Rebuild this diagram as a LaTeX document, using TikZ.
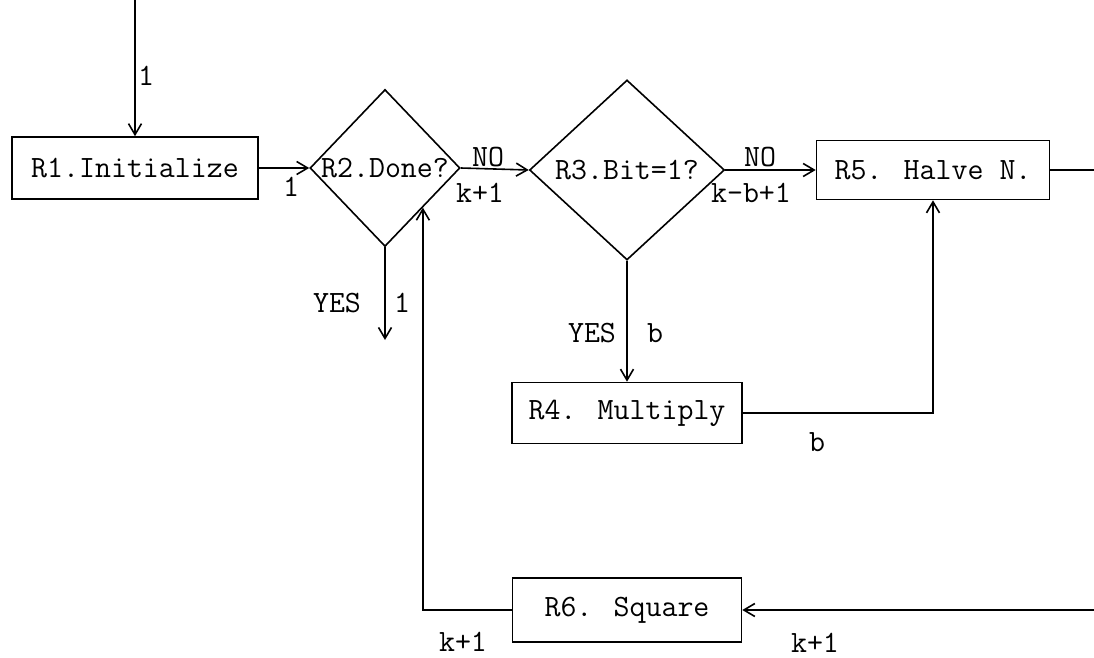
\documentclass[tikz,border=0pt]{standalone}
\usetikzlibrary{shapes.geometric,arrows.meta}
\newcommand{\flowfont}{\fontsize{31}{37}\selectfont\ttfamily}
\tikzset{
  box/.style={draw, line width=1.6pt, inner sep=0pt, font=\flowfont},
  decision/.style={draw, diamond, line width=1.6pt, inner sep=0pt, font=\flowfont},
  flow/.style={line width=1.6pt},
  arrow/.style={flow, -{Straight Barb[length=11pt,width=13pt,line width=1.6pt]}},
  tag/.style={font=\flowfont, inner sep=0pt},
}
\begin{document}
\begin{tikzpicture}[x=1pt, y=-1pt]
\useasboundingbox (0,0) rectangle (1094,658);
\node[box, minimum width=246pt, minimum height=62pt] (r1) at (135,168) {R1.Initialize};
\node[decision, minimum width=150pt, minimum height=157pt] (r2) at (385,168) {\makebox[0pt]{R2.Done?}};
\node[decision, minimum width=195pt, minimum height=180pt] (r3) at (627,170) {\makebox[0pt]{R3.Bit=1?}};
\node[box, minimum width=233pt, minimum height=59pt] (r5) at (933,170) {R5. Halve N.};
\node[box, minimum width=230pt, minimum height=61pt] (r4) at (627,413) {R4. Multiply};
\node[box, minimum width=229pt, minimum height=64pt] (r6) at (627,610) {R6. Square};
\coordinate (start) at (135,0);
\coordinate (done) at (385,340);
\coordinate (outtop) at (1100,170);
\coordinate (outbot) at (1100,610);
% connectors
\draw[arrow] (start) -- (r1.north);
\draw[arrow] (r1.east) -- (r2.west);
\draw[arrow] (r2.east) -- (r3.west);
\draw[arrow] (r3.east) -- (r5.west);
\draw[arrow] (r3.south) -- (r4.north);
\draw[arrow] (r2.south) -- (done);
\draw[arrow] (r4.east) -| (r5.south);
\draw[flow] (r5.east) -- (outtop) -- (outbot);
\draw[arrow] (outbot) -- (r6.east);
\draw[arrow] (r6.west) -| (r2.south east);
% counts
\node[tag] (cin) at (146,76) {1};
\node[tag] (cr1) at (291,187) {1};
\node[tag] (yes2) at (337,303) {YES};
\node[tag] (cyes2) at (402,303) {1};
\node[tag] (no2) at (488,157) {NO};
\node[tag] (cno2) at (480,193) {k+1};
\node[tag] (no3) at (760,157) {NO};
\node[tag] (cno3) at (751,193) {k-b+1};
\node[tag] (yes3) at (592,333) {YES};
\node[tag] (cyes3) at (655,333) {b};
\node[tag] (cr4) at (817,442) {b};
\node[tag] (cr6) at (463,642) {k+1};
\node[tag] (cback) at (815,643) {k+1};
\end{tikzpicture}
\end{document}
